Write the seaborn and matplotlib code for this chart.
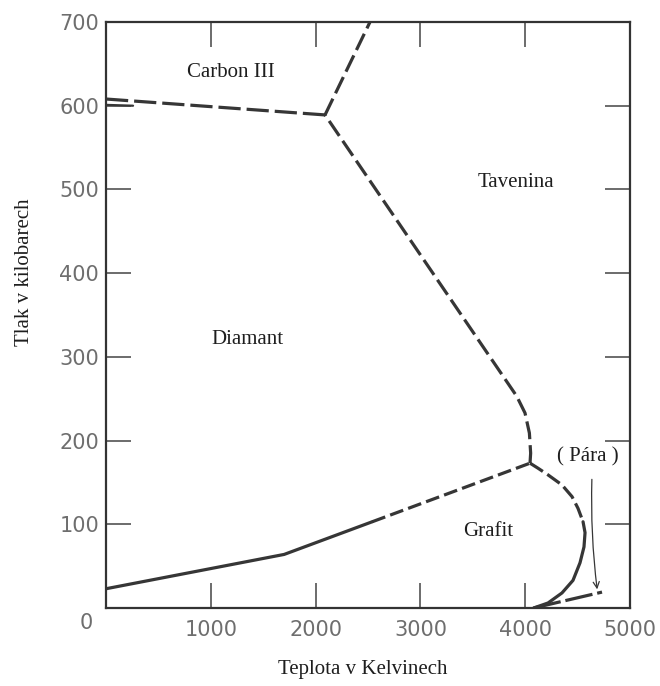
import matplotlib
matplotlib.use("Agg")
import matplotlib.pyplot as plt
import seaborn as sns
from matplotlib.patches import FancyArrowPatch

# Phase boundaries of carbon: temperature in K, pressure in kbar
graphite_diamond_solid_T = [0, 1700, 2540]
graphite_diamond_solid_P = [23, 64, 103]
graphite_diamond_dashed_T = [2540, 4046]
graphite_diamond_dashed_P = [103, 173]

diamond_melt_T = [4046, 4052, 4040, 3998, 3919, 2090]
diamond_melt_P = [173, 185, 209, 233, 253, 589]

carbon3_melt_T = [2090, 2519]
carbon3_melt_P = [589, 700]

carbon3_diamond_T = [0, 2090]
carbon3_diamond_P = [608, 589]
carbon3_diamond_short_T = [0, 258]
carbon3_diamond_short_P = [601, 600]

graphite_melt_dashed_T = [4046, 4122, 4218, 4351, 4447, 4504, 4552]
graphite_melt_dashed_P = [173, 167, 159, 147, 133, 119, 103]
graphite_melt_solid_T = [4552, 4571, 4561, 4523, 4456, 4351, 4218, 4080]
graphite_melt_solid_P = [103, 90, 73, 54, 33, 18, 6, 0]

sublimation_T = [4080, 4733]
sublimation_P = [0, 19]

# pointer from the vapour label down to the sublimation point
vapour_arrow_T = [4637, 4690]
vapour_arrow_P = [157, 19]

region_names = ["Carbon III", "Tavenina", "Diamant", "Grafit", "( Pára )"]
region_T = [1193, 3912, 1345, 3645, 4600]
region_P = [640, 508, 321, 91, 180]

x_ticks = [0, 1000, 2000, 3000, 4000, 5000]
x_tick_labels = ["", "1000", "2000", "3000", "4000", "5000"]
y_ticks = [0, 100, 200, 300, 400, 500, 600, 700]
y_tick_labels = ["", "100", "200", "300", "400", "500", "600", "700"]

sns.set_style("white")
plt.rcParams["lines.scale_dashes"] = False

LINE = "#363636"
SERIF = ["Liberation Serif", "DejaVu Serif"]

fig = plt.figure(figsize=(6.6, 6.86), dpi=100)
ax = fig.add_axes([106 / 660, 1 - 608 / 686, 524 / 660, 586 / 686])


def boundary(T, P, dashes=None, lw=2.3):
    style = "-" if dashes is None else (0, dashes)
    sns.lineplot(x=T, y=P, sort=False, estimator=None, ax=ax, color=LINE,
                 linewidth=lw, linestyle=style)


boundary(graphite_diamond_solid_T, graphite_diamond_solid_P)
boundary(graphite_diamond_dashed_T, graphite_diamond_dashed_P, (10, 3.8))
boundary(diamond_melt_T, diamond_melt_P, (13, 4.3))
boundary(carbon3_melt_T, carbon3_melt_P, (13, 4.3))
boundary(carbon3_diamond_T, carbon3_diamond_P, (16, 4.3))
boundary(carbon3_diamond_short_T, carbon3_diamond_short_P, lw=1.6)
boundary(graphite_melt_dashed_T, graphite_melt_dashed_P, (11, 3.8))
boundary(graphite_melt_solid_T, graphite_melt_solid_P)
boundary(sublimation_T, sublimation_P, (20, 3.5))

ax.add_patch(FancyArrowPatch((vapour_arrow_T[0], vapour_arrow_P[0]),
                             (vapour_arrow_T[1], vapour_arrow_P[1]),
                             arrowstyle="->", mutation_scale=11, lw=0.9,
                             color=LINE, connectionstyle="arc3,rad=0.04"))

for name, t, p in zip(region_names, region_T, region_P):
    ax.text(t, p, name, ha="center", va="center", fontsize=15,
            family=SERIF, color="#1e1e1e")

ax.set_xlim(0, 5000)
ax.set_ylim(0, 700)
ax.set_xticks(x_ticks)
ax.set_xticklabels(x_tick_labels)
ax.set_yticks(y_ticks)
ax.set_yticklabels(y_tick_labels)
ax.tick_params(which="major", direction="in", length=18, width=1.1,
               color="#444444", top=True, right=True, bottom=True, left=True,
               labelsize=15, labelcolor="#6e6e6e")
ax.tick_params(axis="x", pad=9)
ax.tick_params(axis="y", pad=5)
ax.text(-0.038, -0.026, "0", transform=ax.transAxes, ha="center",
        va="center", fontsize=15, color="#6e6e6e")

for spine in ax.spines.values():
    spine.set_linewidth(1.6)
    spine.set_color("#333333")

ax.set_xlabel("Teplota v Kelvinech", fontsize=15, family=SERIF, color="#1e1e1e")
ax.set_ylabel("Tlak v kilobarech", fontsize=15, family=SERIF, color="#1e1e1e")
ax.xaxis.set_label_coords(0.49, -0.088)
ax.yaxis.set_label_coords(-0.137, 0.573)

fig.savefig("out.png", dpi=100, facecolor="white")
